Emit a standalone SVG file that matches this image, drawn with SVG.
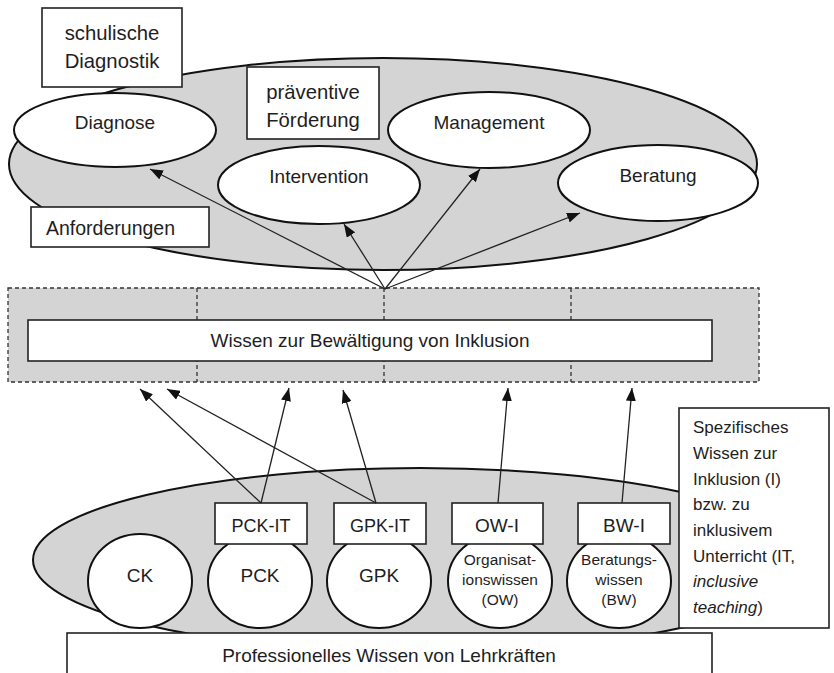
<svg xmlns="http://www.w3.org/2000/svg" width="834" height="673" viewBox="0 0 834 673">
  <defs>
    <marker id="arrow" markerUnits="userSpaceOnUse" markerWidth="13" markerHeight="10" viewBox="0 0 13 10" refX="13" refY="5" orient="auto">
      <path d="M0,0 L13,5 L0,10 z" fill="#111"/>
    </marker>
    <style>
      text { font-family: "Liberation Sans", Arial, sans-serif; fill: #1e1e1e; }
      .zone { fill: #d4d4d4; stroke: #111; stroke-width: 2; }
      .oval { fill: #fff; stroke: #111; stroke-width: 2; }
      .box { fill: #fff; stroke: #222; stroke-width: 1.6; }
      .dash { fill: none; stroke: #333; stroke-width: 1.3; stroke-dasharray: 4 3; }
      .link { stroke: #222; stroke-width: 1.3; fill: none; marker-end: url(#arrow); }
      .c { text-anchor: middle; }
      .l19 { font-size: 19px; }
      .l20 { font-size: 20.3px; }
      .side { font-size: 17px; }
      .small { font-size: 15.5px; }
    </style>
  </defs>

  <!-- requirement field -->
  <g id="anforderungsfeld">
    <ellipse class="zone" cx="383" cy="164" rx="374" ry="106"/>
  </g>
  <g id="diagnose">
    <ellipse class="oval" cx="115" cy="130" rx="101" ry="37"/>
    <text class="c l19" x="115" y="129">Diagnose</text>
  </g>
  <g id="management">
    <ellipse class="oval" cx="489" cy="130" rx="101" ry="38"/>
    <text class="c l19" x="489" y="129">Management</text>
  </g>
  <g id="intervention">
    <ellipse class="oval" cx="319" cy="185" rx="101" ry="39"/>
    <text class="c l19" x="319" y="183">Intervention</text>
  </g>
  <g id="beratung">
    <ellipse class="oval" cx="658" cy="183" rx="100" ry="38"/>
    <text class="c l19" x="658" y="182">Beratung</text>
  </g>
  <g id="schulische-diagnostik">
    <rect class="box" x="42" y="8" width="140" height="79"/>
    <text class="c l20" x="112" y="40">schulische</text>
    <text class="c l20" x="112" y="68">Diagnostik</text>
  </g>
  <g id="praeventive-foerderung">
    <rect class="box" x="247" y="67" width="132" height="72"/>
    <text class="c l20" x="313" y="99">präventive</text>
    <text class="c l20" x="313" y="127">Förderung</text>
  </g>
  <g id="anforderungen">
    <rect class="box" x="31" y="207" width="178" height="40"/>
    <text class="l19" x="46" y="235" style="font-size:19.5px">Anforderungen</text>
  </g>

  <!-- knowledge for coping with inclusion -->
  <g id="wissen-inklusion">
    <rect x="8" y="288" width="751" height="94" fill="#d4d4d4"/>
    <rect class="dash" x="8" y="288" width="751" height="94"/>
    <line class="dash" x1="197" y1="288" x2="197" y2="382"/>
    <line class="dash" x1="384" y1="288" x2="384" y2="382"/>
    <line class="dash" x1="571" y1="288" x2="571" y2="382"/>
    <rect class="box" x="28" y="320" width="684" height="41"/>
    <text class="c l19" x="370" y="347">Wissen zur Bewältigung von Inklusion</text>
  </g>

  <!-- professional knowledge field -->
  <g id="wissensfeld">
    <ellipse class="zone" cx="420" cy="560" rx="387" ry="92"/>
  </g>
  <g id="ck">
    <ellipse class="oval" cx="140" cy="581" rx="52" ry="47"/>
    <text class="c l19" x="140" y="582">CK</text>
  </g>
  <g id="pck">
    <ellipse class="oval" cx="260" cy="581" rx="52" ry="47"/>
    <text class="c l19" x="260" y="582">PCK</text>
  </g>
  <g id="gpk">
    <ellipse class="oval" cx="379" cy="581" rx="52" ry="47"/>
    <text class="c l19" x="379" y="582">GPK</text>
  </g>
  <g id="ow">
    <ellipse class="oval" cx="500" cy="581" rx="52" ry="47"/>
    <text class="c small" x="500" y="565">Organisat-</text>
    <text class="c small" x="500" y="585">ionswissen</text>
    <text class="c small" x="500" y="605">(OW)</text>
  </g>
  <g id="bw">
    <ellipse class="oval" cx="619" cy="581" rx="52" ry="47"/>
    <text class="c small" x="619" y="565">Beratungs-</text>
    <text class="c small" x="619" y="585">wissen</text>
    <text class="c small" x="619" y="605">(BW)</text>
  </g>
  <g id="pck-it">
    <rect class="box" x="215" y="503" width="92" height="41"/>
    <text class="c" x="261" y="532" style="font-size:18px">PCK-IT</text>
  </g>
  <g id="gpk-it">
    <rect class="box" x="334" y="503" width="92" height="41"/>
    <text class="c" x="380" y="532" style="font-size:18px">GPK-IT</text>
  </g>
  <g id="ow-i">
    <rect class="box" x="452" y="503" width="91" height="41"/>
    <text class="c" x="497" y="532" style="font-size:19px">OW-I</text>
  </g>
  <g id="bw-i">
    <rect class="box" x="578" y="503" width="92" height="41"/>
    <text class="c" x="624" y="532" style="font-size:19px">BW-I</text>
  </g>
  <g id="professionelles-wissen">
    <rect class="box" x="67" y="633" width="645" height="50"/>
    <text class="c l19" x="389" y="662">Professionelles Wissen von Lehrkräften</text>
  </g>
  <g id="spezifisches-wissen">
    <rect class="box" x="679" y="408" width="150" height="220"/>
    <text class="side" x="693" y="433">Spezifisches</text>
    <text class="side" x="693" y="459">Wissen zur</text>
    <text class="side" x="693" y="485">Inklusion (I)</text>
    <text class="side" x="693" y="510">bzw. zu</text>
    <text class="side" x="693" y="536">inklusivem</text>
    <text class="side" x="693" y="562">Unterricht (IT,</text>
    <text class="side" x="693" y="587" font-style="italic">inclusive</text>
    <text class="side" x="693" y="613"><tspan font-style="italic">teaching</tspan>)</text>
  </g>

  <!-- connectors -->
  <g id="connectors">
    <line class="link" x1="385" y1="289" x2="150" y2="169"/>
    <line class="link" x1="385" y1="289" x2="344" y2="224"/>
    <line class="link" x1="385" y1="289" x2="480" y2="169"/>
    <line class="link" x1="385" y1="289" x2="580" y2="213"/>
    <line class="link" x1="261" y1="503" x2="140" y2="389"/>
    <line class="link" x1="261" y1="503" x2="289" y2="388"/>
    <line class="link" x1="376" y1="503" x2="167" y2="389"/>
    <line class="link" x1="376" y1="503" x2="343" y2="390"/>
    <line class="link" x1="498" y1="503" x2="508" y2="388"/>
    <line class="link" x1="622" y1="503" x2="632" y2="388"/>
  </g>
</svg>
